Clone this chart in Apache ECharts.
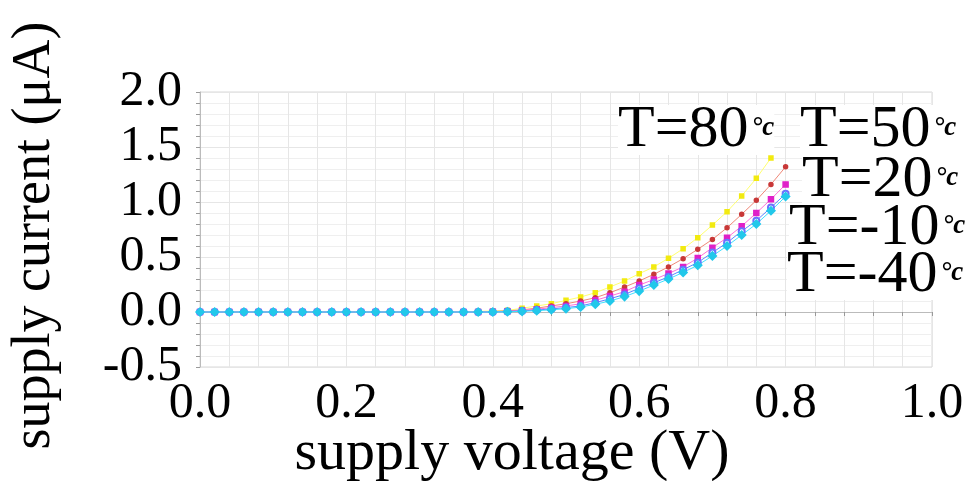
<!DOCTYPE html>
<html>
<head>
<meta charset="utf-8">
<title>supply current vs supply voltage</title>
<script src="https://cdn.jsdelivr.net/npm/echarts@6/dist/echarts.min.js"></script>
<style>
  html, body { margin: 0; padding: 0; background: #fff; }
  #main { width: 978px; height: 481px; }
</style>
</head>
<body>
<div id="main"></div>
<script>
// supply voltage (V), sampled every 0.02 V
const voltage = [
  0.00, 0.02, 0.04, 0.06, 0.08, 0.10, 0.12, 0.14, 0.16, 0.18,
  0.20, 0.22, 0.24, 0.26, 0.28, 0.30, 0.32, 0.34, 0.36, 0.38,
  0.40, 0.42, 0.44, 0.46, 0.48, 0.50, 0.52, 0.54, 0.56, 0.58,
  0.60, 0.62, 0.64, 0.66, 0.68, 0.70, 0.72, 0.74, 0.76, 0.78, 0.80
]
// supply current (uA) per temperature
const curT80 = [
  0, 0, 0, 0, 0, 0, 0, 0, 0, 0,
  0, 0, 0, 0, 0, 0, 0, 0, 0.002, 0.005,
  0.01, 0.015, 0.034, 0.055, 0.075, 0.106, 0.136, 0.175, 0.227, 0.282,
  0.348, 0.41, 0.488, 0.575, 0.675, 0.79, 0.912, 1.055, 1.215, 1.40, null
]
const curT50 = [
  0, 0, 0, 0, 0, 0, 0, 0, 0, 0,
  0, 0, 0, 0, 0, 0, 0, 0, 0, 0,
  0.005, 0.01, 0.02, 0.035, 0.055, 0.075, 0.10, 0.13, 0.175, 0.227,
  0.282, 0.343, 0.41, 0.485, 0.57, 0.66, 0.766, 0.888, 1.015, 1.16, 1.32
]
const curT20 = [
  0, 0, 0, 0, 0, 0, 0, 0, 0, 0,
  0, 0, 0, 0, 0, 0, 0, 0, 0, 0,
  0.003, 0.007, 0.015, 0.025, 0.04, 0.055, 0.075, 0.106, 0.145, 0.185,
  0.245, 0.295, 0.35, 0.41, 0.49, 0.585, 0.675, 0.78, 0.90, 1.025, 1.16
]
const curTm10 = [
  0, 0, 0, 0, 0, 0, 0, 0, 0, 0,
  0, 0, 0, 0, 0, 0, 0, 0, 0, 0,
  0, 0.004, 0.01, 0.018, 0.028, 0.04, 0.055, 0.085, 0.12, 0.16,
  0.215, 0.265, 0.32, 0.385, 0.45, 0.54, 0.63, 0.735, 0.83, 0.95, 1.075
]
const curTm40 = [
  0, 0, 0, 0, 0, 0, 0, 0, 0, 0,
  0, 0, 0, 0, 0, 0, 0, 0, 0, 0,
  0, 0.002, 0.006, 0.012, 0.02, 0.03, 0.045, 0.07, 0.10, 0.14,
  0.19, 0.245, 0.30, 0.36, 0.425, 0.51, 0.60, 0.70, 0.80, 0.92, 1.05
]
const tempNames = ['T=80', 'T=50', 'T=20', 'T=-10', 'T=-40']

const font = 'Liberation Serif, Times New Roman, serif'

function pairs (ys) {
  const out = []
  for (let i = 0; i < voltage.length; i++) {
    out.push([voltage[i], ys[i]])
  }
  return out
}

function makeSeries (name, ys, lineColor, markColor, symbol, size) {
  return {
    name: name,
    type: 'line',
    data: pairs(ys),
    symbol: symbol,
    symbolSize: size,
    showAllSymbol: true,
    animation: false,
    lineStyle: { color: lineColor, width: 1 },
    itemStyle: { color: markColor, borderColor: markColor, borderWidth: 1.5 }
  }
}

// legend-like labels placed by hand, like the figure
const labelPos = [
  [618, 100], [800, 100], [802, 150], [789, 198], [787, 245]
]
const graphics = []
for (let i = 0; i < tempNames.length; i++) {
  graphics.push({
    type: 'text',
    left: labelPos[i][0],
    top: labelPos[i][1],
    z: 100,
    style: {
      text: '{a|' + tempNames[i] + '}{b|°c}',
      backgroundColor: '#fff',
      rich: {
        a: { fontFamily: font, fontSize: 60, fill: '#000', verticalAlign: 'middle', lineHeight: 50 },
        b: { fontFamily: font, fontSize: 27, fontWeight: 'bold', fontStyle: 'italic', fill: '#000', verticalAlign: 'middle', padding: [0, 0, 4, 3] }
      }
    }
  })
}

const chart = echarts.init(document.getElementById('main'))
const option = {
  backgroundColor: '#fff',
  animation: false,
  grid: {
    left: 200, right: 46, top: 92, bottom: 114,
    containLabel: false,
    outerBoundsMode: 'none',
    show: true, borderColor: '#d8d8d8', borderWidth: 1
  },
  xAxis: {
    type: 'value',
    min: 0, max: 1, interval: 0.2,
    name: 'supply voltage (V)',
    nameLocation: 'middle',
    nameGap: 58,
    nameMoveOverlap: false,
    nameTextStyle: { fontFamily: font, fontSize: 58, color: '#000', padding: [0, 108, 0, 0] },
    axisLine: { show: true, lineStyle: { color: '#bbb' } },
    axisTick: { show: true, length: 4, lineStyle: { color: '#999' } },
    minorTick: { show: true, splitNumber: 5, length: 4, lineStyle: { color: '#999' } },
    axisLabel: {
      fontFamily: font, fontSize: 50, color: '#000', margin: 12,
      formatter: v => v.toFixed(1)
    },
    splitLine: { show: true, lineStyle: { color: '#e6e6e6' } },
    minorSplitLine: { show: true, lineStyle: { color: '#e6e6e6' } }
  },
  yAxis: {
    type: 'value',
    min: -0.5, max: 2.0, interval: 0.5,
    name: 'supply current (μA)',
    nameLocation: 'middle',
    nameRotate: 90,
    nameGap: 138,
    nameMoveOverlap: false,
    nameTextStyle: { fontFamily: font, fontSize: 54, color: '#000', padding: [0, 12, 0, 0] },
    axisLine: { show: true, lineStyle: { color: '#bbb' } },
    axisTick: { show: true, length: 4, lineStyle: { color: '#999' } },
    minorTick: { show: true, splitNumber: 5, length: 4, lineStyle: { color: '#999' } },
    axisLabel: {
      fontFamily: font, fontSize: 50, color: '#000', margin: 18,
      formatter: v => v.toFixed(1)
    },
    splitLine: { show: true, lineStyle: { color: '#e6e6e6' } },
    minorSplitLine: { show: true, lineStyle: { color: '#efefef' } }
  },
  series: [
    makeSeries(tempNames[0], curT80, '#ffff70', '#f2ea10', 'rect', 4),
    makeSeries(tempNames[1], curT50, '#f08878', '#c83838', 'circle', 4),
    makeSeries(tempNames[2], curT20, '#ff70d8', '#e020c8', 'rect', 5),
    makeSeries(tempNames[3], curTm10, '#5a86ff', '#6a72ff', 'emptyCircle', 6),
    makeSeries(tempNames[4], curTm40, '#40e0ff', '#22c8ea', 'diamond', 8)
  ],
  graphic: graphics
}
chart.setOption(option)
</script>
</body>
</html>
